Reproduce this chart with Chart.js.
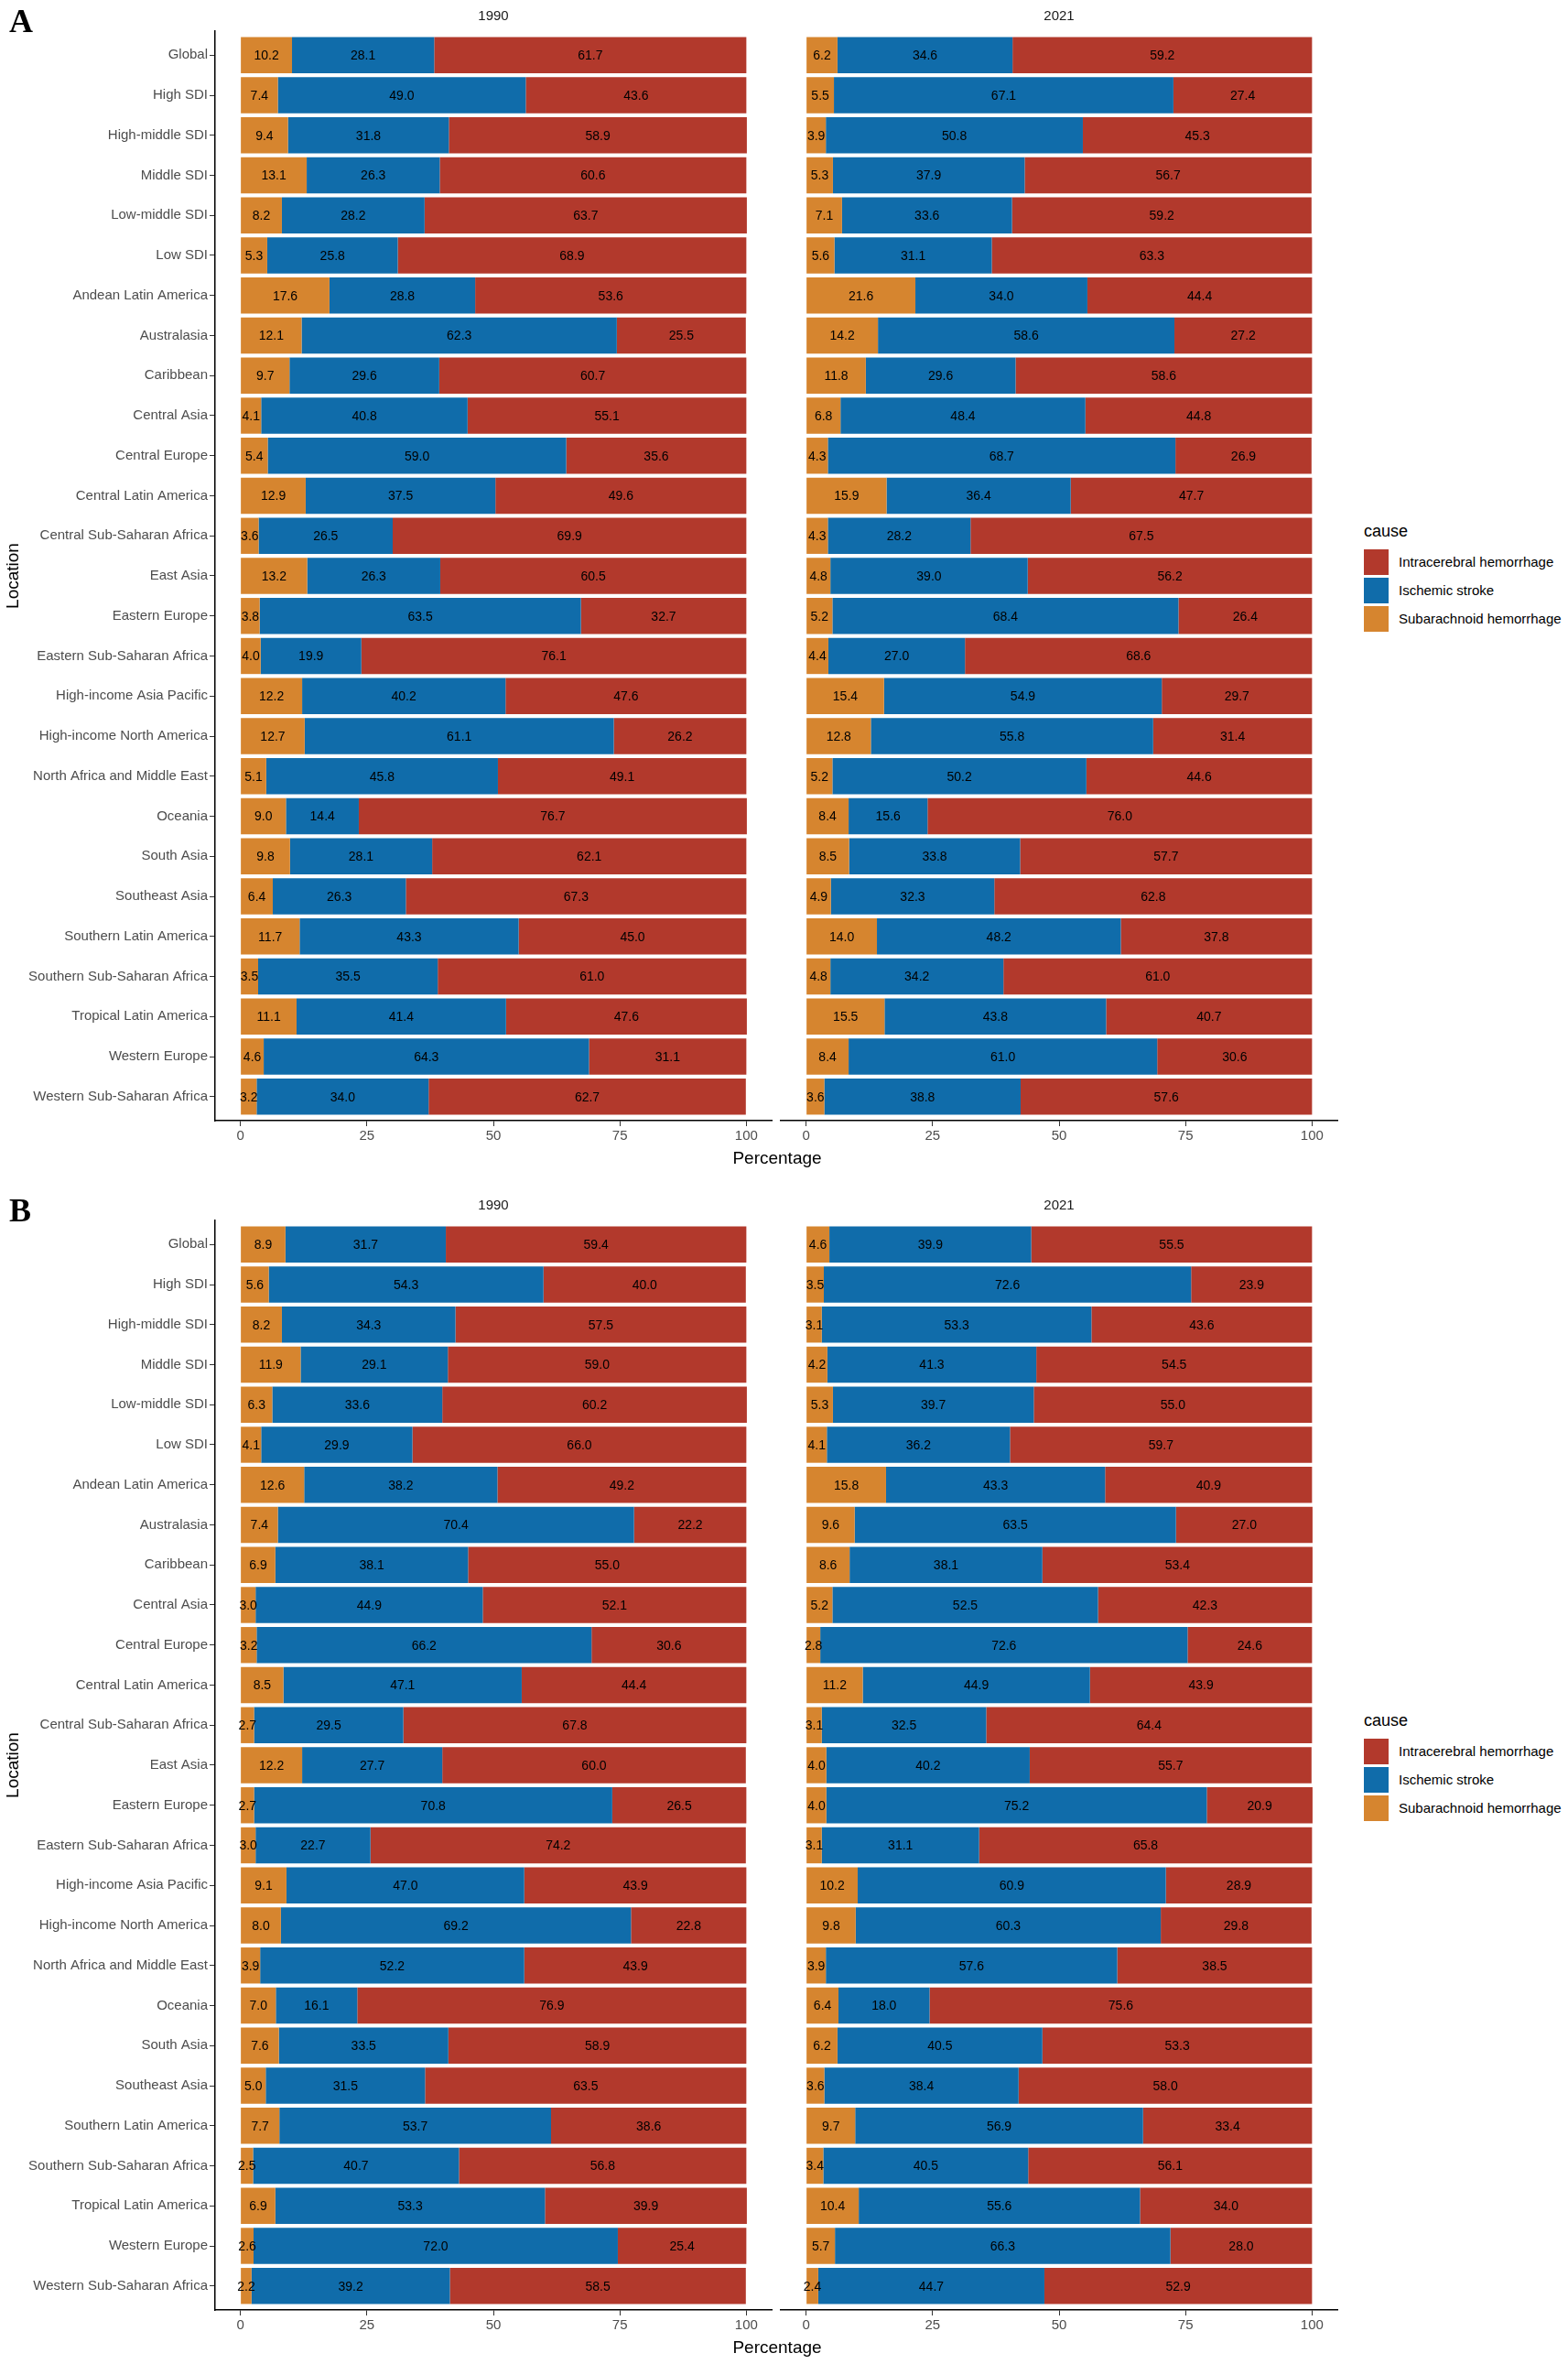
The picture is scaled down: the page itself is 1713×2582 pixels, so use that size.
<!DOCTYPE html>
<html>
<head>
<meta charset="utf-8">
<script src="https://cdn.jsdelivr.net/npm/chart.js@4/dist/chart.umd.min.js"></script>
<style>
  html, body { margin:0; padding:0; background:#fff; overflow:hidden; }
  body { width:1713px; height:2582px; position:relative; font-family:'Liberation Sans', Arial, sans-serif; }
  .fig { position:absolute; left:0; width:1713px; height:1299px; }
  .fig canvas { position:absolute; top:0; }
  .letter { position:absolute; left:10px; top:5px; font-family:'Liberation Serif','Times New Roman',serif; font-weight:bold; font-size:36px; line-height:36px; color:#000; }
  .ytitle { position:absolute; left:-86px; top:618px; width:200px; line-height:22px; text-align:center; font-size:19px; color:#000; transform:rotate(-90deg); }
  .xtitle { position:absolute; left:749px; top:1254px; width:200px; line-height:22px; text-align:center; font-size:19px; color:#000; }
  .ltitle { position:absolute; left:1490px; top:569px; line-height:22px; font-size:18px; color:#000; }
  .lkey { position:absolute; left:1490px; width:27px; height:28px; }
  .llab { position:absolute; left:1528px; line-height:20px; font-size:15px; color:#000; white-space:nowrap; }
</style>
</head>
<body>
<script>
// ---------- DATA ----------
const categories = ["Global","High SDI","High-middle SDI","Middle SDI","Low-middle SDI","Low SDI",
  "Andean Latin America","Australasia","Caribbean","Central Asia","Central Europe","Central Latin America",
  "Central Sub-Saharan Africa","East Asia","Eastern Europe","Eastern Sub-Saharan Africa","High-income Asia Pacific",
  "High-income North America","North Africa and Middle East","Oceania","South Asia","Southeast Asia",
  "Southern Latin America","Southern Sub-Saharan Africa","Tropical Latin America","Western Europe","Western Sub-Saharan Africa"];
const causes = ["Intracerebral hemorrhage","Ischemic stroke","Subarachnoid hemorrhage"];
const years = ["1990","2021"];
const xTicks = [0,25,50,75,100];

const A1990_SAH = [10.2,7.4,9.4,13.1,8.2,5.3,17.6,12.1,9.7,4.1,5.4,12.9,3.6,13.2,3.8,4.0,12.2,12.7,5.1,9.0,9.8,6.4,11.7,3.5,11.1,4.6,3.2];
const A1990_IS  = [28.1,49.0,31.8,26.3,28.2,25.8,28.8,62.3,29.6,40.8,59.0,37.5,26.5,26.3,63.5,19.9,40.2,61.1,45.8,14.4,28.1,26.3,43.3,35.5,41.4,64.3,34.0];
const A1990_ICH = [61.7,43.6,58.9,60.6,63.7,68.9,53.6,25.5,60.7,55.1,35.6,49.6,69.9,60.5,32.7,76.1,47.6,26.2,49.1,76.7,62.1,67.3,45.0,61.0,47.6,31.1,62.7];

const A2021_SAH = [6.2,5.5,3.9,5.3,7.1,5.6,21.6,14.2,11.8,6.8,4.3,15.9,4.3,4.8,5.2,4.4,15.4,12.8,5.2,8.4,8.5,4.9,14.0,4.8,15.5,8.4,3.6];
const A2021_IS  = [34.6,67.1,50.8,37.9,33.6,31.1,34.0,58.6,29.6,48.4,68.7,36.4,28.2,39.0,68.4,27.0,54.9,55.8,50.2,15.6,33.8,32.3,48.2,34.2,43.8,61.0,38.8];
const A2021_ICH = [59.2,27.4,45.3,56.7,59.2,63.3,44.4,27.2,58.6,44.8,26.9,47.7,67.5,56.2,26.4,68.6,29.7,31.4,44.6,76.0,57.7,62.8,37.8,61.0,40.7,30.6,57.6];

const B1990_SAH = [8.9,5.6,8.2,11.9,6.3,4.1,12.6,7.4,6.9,3.0,3.2,8.5,2.7,12.2,2.7,3.0,9.1,8.0,3.9,7.0,7.6,5.0,7.7,2.5,6.9,2.6,2.2];
const B1990_IS  = [31.7,54.3,34.3,29.1,33.6,29.9,38.2,70.4,38.1,44.9,66.2,47.1,29.5,27.7,70.8,22.7,47.0,69.2,52.2,16.1,33.5,31.5,53.7,40.7,53.3,72.0,39.2];
const B1990_ICH = [59.4,40.0,57.5,59.0,60.2,66.0,49.2,22.2,55.0,52.1,30.6,44.4,67.8,60.0,26.5,74.2,43.9,22.8,43.9,76.9,58.9,63.5,38.6,56.8,39.9,25.4,58.5];

const B2021_SAH = [4.6,3.5,3.1,4.2,5.3,4.1,15.8,9.6,8.6,5.2,2.8,11.2,3.1,4.0,4.0,3.1,10.2,9.8,3.9,6.4,6.2,3.6,9.7,3.4,10.4,5.7,2.4];
const B2021_IS  = [39.9,72.6,53.3,41.3,39.7,36.2,43.3,63.5,38.1,52.5,72.6,44.9,32.5,40.2,75.2,31.1,60.9,60.3,57.6,18.0,40.5,38.4,56.9,40.5,55.6,66.3,44.7];
const B2021_ICH = [55.5,23.9,43.6,54.5,55.0,59.7,40.9,27.0,53.4,42.3,24.6,43.9,64.4,55.7,20.9,65.8,28.9,29.8,38.5,75.6,53.3,58.0,33.4,56.1,34.0,28.0,52.9];

// ---------- STYLE ----------
const COLORS = { ICH:"#B2392C", IS:"#106CAA", SAH:"#D6852F" };
const FONT = "'Liberation Sans', Arial, sans-serif";
Chart.defaults.font.family = FONT;
Chart.defaults.animation = false;

const labelPlugin = {
  id: 'barLabels',
  afterDatasetsDraw(chart) {
    const ctx = chart.ctx;
    ctx.save();
    ctx.font = "14px " + FONT;
    ctx.fillStyle = "#000";
    ctx.textAlign = "center";
    ctx.textBaseline = "middle";
    chart.data.datasets.forEach((ds, di) => {
      const meta = chart.getDatasetMeta(di);
      meta.data.forEach((bar, i) => {
        const p = bar.getProps(['x','base','y'], true);
        ctx.fillText(ds.data[i].x.toFixed(1), (p.x + p.base) / 2, p.y + 1);
      });
    });
    ctx.restore();
  }
};
const stripPlugin = {
  id: 'strip',
  afterDraw(chart, args, opts) {
    const ctx = chart.ctx, a = chart.chartArea;
    ctx.save();
    ctx.font = "15px " + FONT;
    ctx.fillStyle = "#1a1a1a";
    ctx.textAlign = "center";
    ctx.textBaseline = "middle";
    ctx.fillText(opts.text, (a.left + a.right) / 2, 18);
    ctx.restore();
  }
};

function toPts(arr) { return arr.map((v, i) => ({ x: v, y: i + 1 })); }

function makeChart(parent, left, width, year, sah, is, ich, showY) {
  const cv = document.createElement('canvas');
  cv.width = width; cv.height = 1290;
  cv.style.left = left + 'px';
  cv.style.width = width + 'px'; cv.style.height = '1290px';
  parent.appendChild(cv);
  new Chart(cv, {
    type: 'bar',
    data: {
      datasets: [
        { label: causes[2], data: toPts(sah), backgroundColor: COLORS.SAH },
        { label: causes[1], data: toPts(is),  backgroundColor: COLORS.IS },
        { label: causes[0], data: toPts(ich), backgroundColor: COLORS.ICH }
      ]
    },
    options: {
      responsive: false,
      maintainAspectRatio: false,
      indexAxis: 'y',
      devicePixelRatio: 1,
      datasets: { bar: { barPercentage: 0.9, categoryPercentage: 1.0, borderWidth: 0 } },
      layout: { padding: { top: 34, bottom: 26, left: showY ? 0 : 8, right: 8 } },
      plugins: { legend: { display: false }, tooltip: { enabled: false }, title: { display: false },
                 strip: { text: year } },
      scales: {
        x: {
          type: 'linear', stacked: true, min: -5, max: 105, offset: false,
          afterBuildTicks: s => { s.ticks = xTicks.map(v => ({ value: v })); },
          afterFit: s => { s.height = 40; },
          grid: { display: true, offset: false, drawOnChartArea: false, drawTicks: true, tickLength: 6, color: '#333', lineWidth: 1 },
          border: { display: true, color: '#000', width: 1.5 },
          ticks: { color: '#4D4D4D', font: { size: 15 }, padding: 2, autoSkip: false, maxRotation: 0 }
        },
        y: {
          type: 'linear', stacked: true, reverse: true, min: 0.4, max: categories.length + 0.6,
          offset: false,
          display: showY,
          afterBuildTicks: s => { s.ticks = categories.map((c, i) => ({ value: i + 1 })); },
          afterFit: s => { if (showY) s.width = 235; },
          grid: { display: true, offset: false, drawOnChartArea: false, drawTicks: true, tickLength: 6, color: '#333', lineWidth: 1 },
          border: { display: true, color: '#000', width: 1.5 },
          ticks: { color: '#4D4D4D', font: { size: 15 }, padding: 2, autoSkip: false,
                   callback: v => categories[v - 1] }
        }
      }
    },
    plugins: [labelPlugin, stripPlugin]
  });
}

function addText(parent, cls, text, style) {
  const d = document.createElement('div');
  d.className = cls; d.textContent = text;
  if (style) Object.assign(d.style, style);
  parent.appendChild(d);
  return d;
}

function makeFigure(top, letter, d1990, d2021) {
  const fig = document.createElement('div');
  fig.className = 'fig'; fig.style.top = top + 'px';
  document.body.appendChild(fig);
  makeChart(fig, 0, 851, years[0], d1990[0], d1990[1], d1990[2], true);
  makeChart(fig, 845, 624, years[1], d2021[0], d2021[1], d2021[2], false);
  addText(fig, 'letter', letter);
  addText(fig, 'ytitle', 'Location');
  addText(fig, 'xtitle', 'Percentage');
  addText(fig, 'ltitle', 'cause');
  const legendColors = [COLORS.ICH, COLORS.IS, COLORS.SAH];
  causes.forEach((c, i) => {
    const k = document.createElement('div');
    k.className = 'lkey';
    k.style.top = (600 + i * 31) + 'px';
    k.style.background = legendColors[i];
    fig.appendChild(k);
    addText(fig, 'llab', c, { top: (604 + i * 31) + 'px' });
  });
}

makeFigure(0, 'A', [A1990_SAH, A1990_IS, A1990_ICH], [A2021_SAH, A2021_IS, A2021_ICH]);
makeFigure(1299, 'B', [B1990_SAH, B1990_IS, B1990_ICH], [B2021_SAH, B2021_IS, B2021_ICH]);
</script>
</body>
</html>
